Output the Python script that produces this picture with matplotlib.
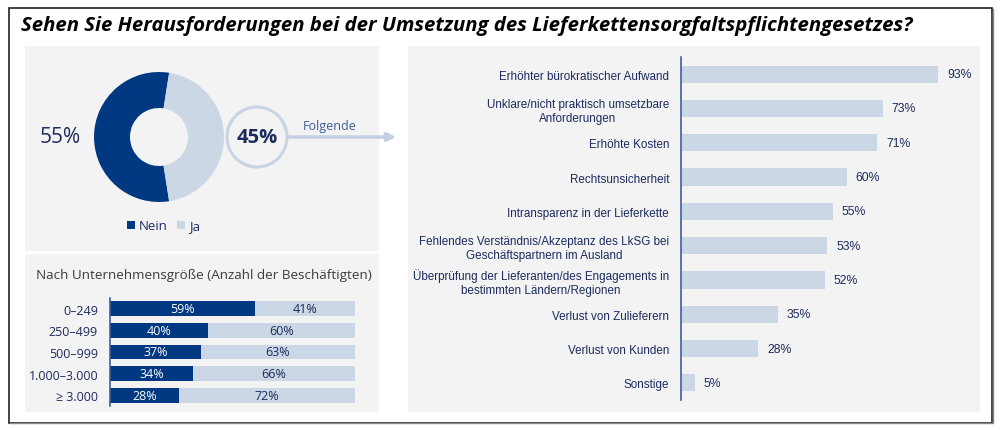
import matplotlib
matplotlib.use("Agg")
import matplotlib.pyplot as plt
from matplotlib import font_manager
from matplotlib.patches import Rectangle, Circle

# Daten
answer_labels = ["Nein", "Ja"]
answer_shares = [55, 45]

size_groups = ["0–249", "250–499", "500–999", "1.000–3.000", "≥ 3.000"]
size_nein = [59, 40, 37, 34, 28]
size_ja = [41, 60, 63, 66, 72]

reasons = [
    "Erhöhter bürokratischer Aufwand",
    "Unklare/nicht praktisch umsetzbare\nAnforderungen",
    "Erhöhte Kosten",
    "Rechtsunsicherheit",
    "Intransparenz in der Lieferkette",
    "Fehlendes Verständnis/Akzeptanz des LkSG bei\nGeschäftspartnern im Ausland",
    "Überprüfung der Lieferanten/des Engagements in\nbestimmten Ländern/Regionen",
    "Verlust von Zulieferern",
    "Verlust von Kunden",
    "Sonstige",
]
reason_shares = [93, 73, 71, 60, 55, 53, 52, 35, 28, 5]

title = "Sehen Sie Herausforderungen bei der Umsetzung des Lieferkettensorgfaltspflichtengesetzes?"

navy = "#003882"
light = "#cbd7e5"
panel = "#f3f3f3"
text_navy = "#1d2b5e"
axis_blue = "#3f5f9f"

names = {f.name for f in font_manager.fontManager.ttflist}
if "Liberation Sans Narrow" in names:
    narrow, narrow_size = "Liberation Sans Narrow", 9.5
else:
    narrow, narrow_size = "Liberation Sans", 8.4
plain = "Open Sans"

W, H = 1000, 431
fig = plt.figure(figsize=(W / 100, H / 100), dpi=100)


def px_axes(x0, y0, x1, y1):
    return fig.add_axes([x0 / W, 1 - y1 / H, (x1 - x0) / W, (y1 - y0) / H])


# Hintergrund, Rahmen, Panels
bg = fig.add_axes([0, 0, 1, 1])
bg.set_xlim(0, W)
bg.set_ylim(H, 0)
bg.axis("off")
bg.add_patch(Rectangle((9, 9), 983, 415, fill=False, edgecolor="#222222", lw=1.2))
bg.plot([992.5, 992.5, 10], [10, 424.5, 424.5], color="#888888", lw=1.0)
for (x0, y0, x1, y1) in [(25, 47, 379, 252), (25, 255, 379, 413), (408, 47, 980, 413)]:
    bg.add_patch(Rectangle((x0, y0), x1 - x0, y1 - y0, facecolor=panel, edgecolor="none"))

bg.text(21, 26, title, family="Open Sans", weight="bold", style="italic", fontsize=14.7,
        va="center", ha="left", color="black")

# Donut
ax_pie = px_axes(159 - 65, 138 - 65, 159 + 65, 138 + 65)
wedges, _ = ax_pie.pie(answer_shares, colors=[navy, light], startangle=81,
                       counterclock=True, radius=1,
                       wedgeprops=dict(width=36 / 65, linewidth=0))
ax_pie.set_xlim(-1, 1)
ax_pie.set_ylim(-1, 1)
ax_pie.legend(wedges, answer_labels, loc="center", bbox_to_anchor=(163.5 / W, 1 - 227 / H),
              bbox_transform=fig.transFigure, ncol=2, frameon=False,
              handlelength=0.6, handleheight=0.6, handletextpad=0.3, columnspacing=0.7,
              prop=dict(family=plain, size=9.5), labelcolor=text_navy)

bg.text(60, 138, f"{answer_shares[0]}%", fontsize=15, family=plain, color=text_navy,
        ha="center", va="center")
bg.add_patch(Circle((257, 138), 30, fill=False, edgecolor="#c8d4e4", lw=2.2))
bg.text(257, 138, f"{answer_shares[1]}%", fontsize=14.5, family=plain, weight="bold",
        color=text_navy, ha="center", va="center")
bg.annotate("", xy=(396, 138), xytext=(288, 138),
            arrowprops=dict(arrowstyle="-|>", color="#c3d0e2", lw=2.5, mutation_scale=12,
                            shrinkA=0, shrinkB=0))
bg.text(330, 127, "Folgende", fontsize=9, family=plain, color="#3d5c94", ha="center", va="center")

# Nach Unternehmensgröße
bg.text(36, 276, "Nach Unternehmensgröße (Anzahl der Beschäftigten)", fontsize=9.7,
        family=plain, color="#3c3c3c", ha="left", va="center")
ax_s = px_axes(110, 299, 355, 407)
ys = range(len(size_groups))
ax_s.barh(ys, size_nein, height=0.69, color=navy)
ax_s.barh(ys, size_ja, left=size_nein, height=0.69, color=light)
for i, (n, j) in enumerate(zip(size_nein, size_ja)):
    ax_s.text(n / 2, i, f"{n}%", color="white", ha="center", va="center", fontsize=9, family=plain)
    ax_s.text(n + j / 2, i, f"{j}%", color=text_navy, ha="center", va="center", fontsize=9, family=plain)
ax_s.set_xlim(0, 100)
ax_s.set_ylim(len(size_groups) - 0.5, -0.5)
ax_s.set_yticks(list(ys))
ax_s.set_yticklabels(size_groups, family=plain, fontsize=9, color=text_navy)
ax_s.tick_params(axis="y", length=0, pad=8.6)
ax_s.set_xticks([])
ax_s.set_facecolor("none")
for s in ["top", "right", "bottom"]:
    ax_s.spines[s].set_visible(False)
ax_s.spines["left"].set_color(axis_blue)
ax_s.spines["left"].set_linewidth(1.2)

# Herausforderungen
ax_r = px_axes(681, 58, 681 + 276.3, 401)
yr = range(len(reasons))
ax_r.barh(yr, reason_shares, height=0.5, color=light)
for i, v in enumerate(reason_shares):
    ax_r.annotate(f"{v}%", xy=(v, i), xytext=(6.5, 0), textcoords="offset points",
                  ha="left", va="center", fontsize=narrow_size + 0.4, family=narrow, color=text_navy)
ax_r.set_xlim(0, 100)
ax_r.set_ylim(len(reasons) - 0.5, -0.5)
ax_r.set_yticks(list(yr))
ax_r.set_yticklabels(reasons, family=narrow, fontsize=narrow_size, color=text_navy,
                     linespacing=1.2, ha="right")
for lab in ax_r.get_yticklabels():
    lab.set_multialignment("center")
ax_r.tick_params(axis="y", length=0, pad=8.6)
ax_r.set_xticks([])
ax_r.set_facecolor("none")
for s in ["top", "right", "bottom"]:
    ax_r.spines[s].set_visible(False)
ax_r.spines["left"].set_color(axis_blue)
ax_r.spines["left"].set_linewidth(1.2)

fig.savefig("out.png", dpi=100)
